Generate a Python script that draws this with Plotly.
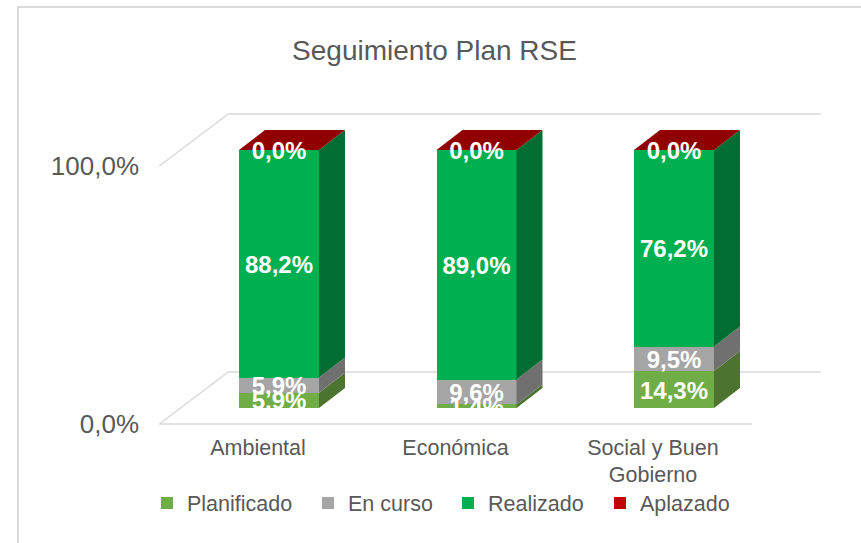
import plotly.graph_objects as go

categories = ["Ambiental", "Económica", "Social y Buen<br>Gobierno"]
series_names = ["Planificado", "En curso", "Realizado", "Aplazado"]
planificado = [5.9, 1.4, 14.3]
en_curso = [5.9, 9.6, 9.5]
realizado = [88.2, 89.0, 76.2]
aplazado = [0.0, 0.0, 0.0]
y_ticks = [0, 100]
y_tick_labels = ["0,0%", "100,0%"]
title_text = "Seguimiento Plan RSE"

series = [planificado, en_curso, realizado, aplazado]
front = ["#70AD47", "#A5A5A5", "#00B050", "#C00000"]
side = ["#4C7330", "#707070", "#006E33", "#8B0000"]
top_colour = "#900000"
grid = "#D9D9D9"
text_col = "#595959"
FONT = "Liberation Sans"

# plot-area geometry, px
PL, PR, PT, PB = 140, 840, 100, 432
W, H = 861, 543
CAT = 197.5
UNIT = 2.58   # px per percentage point
X0 = 258      # px of category 0
xr = [(PL - X0) / CAT, (PR - X0) / CAT]
y1r = [(424 - PB) / UNIT, (424 - PT) / UNIT]    # walls & tick labels
y2r = [(408 - PB) / UNIT, (408 - PT) / UNIT]    # bars
bar_off = (239 - X0) / CAT
bar_w = 80 / CAT
dx, dy = 26 / CAT, 20 / UNIT          # bar depth
wx, wy = 69 / CAT, 52 / UNIT          # floor depth
legend_text_px = [187, 348, 488, 640]
label_nudge = 3 / UNIT


def px_x(p):
    return (p - PL) / (PR - PL)


def px_y(p):
    return (PB - p) / (PB - PT)


fig = go.Figure()

# walls / floor
for v in y_ticks:
    fig.add_trace(go.Scatter(
        x=[2.5, -0.5, -0.5 + wx, 2.5 + wx] if v == 0 else [-0.5, -0.5 + wx, 2.5 + wx],
        y=[v, v, v + wy, v + wy] if v == 0 else [v, v + wy, v + wy],
        mode="lines", line=dict(color=grid, width=1.5), hoverinfo="skip",
        showlegend=False, yaxis="y", xaxis="x"))

# front faces
legend_ids = ["legend", "legend2", "legend3", "legend4"]
for name, vals, c, lg in zip(series_names, series, front, legend_ids):
    fig.add_trace(go.Bar(
        x=list(range(3)), y=vals, name=name, marker=dict(color=c, line=dict(width=0)),
        offset=bar_off, width=bar_w, yaxis="y2", xaxis="x", legend=lg))

# side faces + top
bases = [0.0, 0.0, 0.0]
xl = []; yl = []; tl = []
for vals, c in zip(series, side):
    for i, v in enumerate(vals):
        b = bases[i]
        xr0 = i + bar_off + bar_w
        fig.add_trace(go.Scatter(
            x=[xr0, xr0 + dx, xr0 + dx, xr0, xr0],
            y=[b, b + dy, b + v + dy, b + v, b],
            fill="toself", fillcolor=c, mode="lines", line=dict(width=0),
            hoverinfo="skip", showlegend=False, yaxis="y2", xaxis="x"))
        xl.append(i + bar_off + bar_w / 2)
        yl.append(b + v / 2 - label_nudge)
        tl.append(f"{v:.1f}".replace(".", ",") + "%")
        bases[i] = b + v
for i in range(3):
    x0 = i + bar_off
    b = bases[i]
    fig.add_trace(go.Scatter(
        x=[x0, x0 + bar_w, x0 + bar_w + dx, x0 + dx, x0],
        y=[b, b, b + dy, b + dy, b],
        fill="toself", fillcolor=top_colour, mode="lines", line=dict(width=0),
        hoverinfo="skip", showlegend=False, yaxis="y2", xaxis="x"))

# data labels
fig.add_trace(go.Scatter(
    x=xl, y=yl, text=tl, mode="text", textposition="middle center",
    textfont=dict(family=FONT, size=24, color="white", weight="bold"),
    hoverinfo="skip", showlegend=False, yaxis="y2", xaxis="x", cliponaxis=False))

legends = {}
for lg, px in zip(legend_ids, legend_text_px):
    legends[lg] = dict(
        x=px_x(px - 40), xanchor="left", y=px_y(503), yanchor="middle",
        orientation="h", font=dict(family=FONT, size=21.5, color=text_col),
        bgcolor="rgba(0,0,0,0)")

fig.update_layout(
    width=W, height=H, autosize=False,
    margin=dict(l=PL, r=W - PR, t=PT, b=H - PB),
    paper_bgcolor="white", plot_bgcolor="white",
    font=dict(family=FONT, color=text_col),
    barmode="stack",
    title=dict(text=title_text, font=dict(family=FONT, size=28, color=text_col),
               x=434.5 / W, xanchor="center", y=1 - 50 / H, yanchor="middle"),
    xaxis=dict(range=xr, tickmode="array", tickvals=[0, 1, 2], ticktext=categories,
               showgrid=False, zeroline=False, showline=False, ticks="",
               tickfont=dict(family=FONT, size=21.5, color=text_col)),
    yaxis=dict(range=y1r, tickmode="array", tickvals=y_ticks, ticktext=y_tick_labels,
               showgrid=False, zeroline=False, showline=False, ticks="",
               tickfont=dict(family=FONT, size=26, color=text_col)),
    yaxis2=dict(range=y2r, overlaying="y", showgrid=False, zeroline=False,
                showline=False, showticklabels=False, ticks=""),
    shapes=[dict(type="path", xref="paper", yref="paper", layer="below",
                 path=f"M {px_x(18)} {px_y(H)} L {px_x(18)} {px_y(7)} L {px_x(W)} {px_y(7)}",
                 line=dict(color=grid, width=2))],
    **legends,
)
fig.write_html("out.html", config={"displayModeBar": False},
               post_script="document.body.style.margin='0';")
